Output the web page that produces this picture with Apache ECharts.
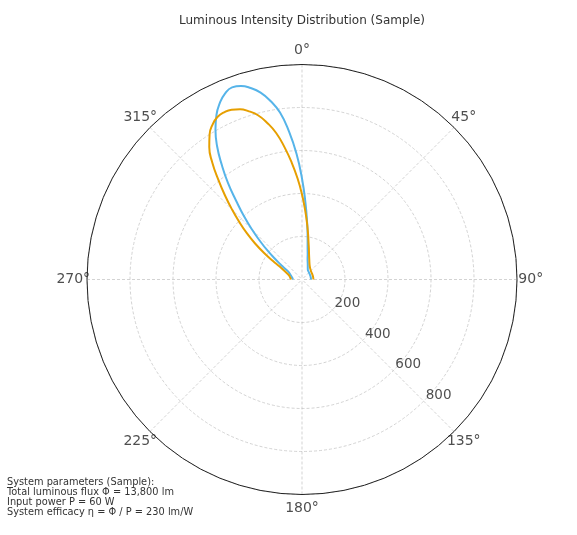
<!DOCTYPE html>
<html>
<head>
<meta charset="utf-8">
<title>Luminous Intensity Distribution (Sample)</title>
<script src="https://cdn.jsdelivr.net/npm/echarts@6/dist/echarts.min.js"></script>
<style>
html, body { margin: 0; padding: 0; background: #fff; }
#main { width: 577px; height: 535px; }
</style>
</head>
<body>
<div id="main"></div>
<script type="text/javascript">
// angles in degrees, 0 at top, clockwise
var angles = [270, 280, 290, 300, 302.5, 305, 307.5, 310, 312.5, 315, 317.5, 320, 322.5, 325, 327.5, 330, 332.5, 335, 337.5, 340,
              342.5, 345, 347.5, 350, 352.5, 355, 357.5, 0, 2.5, 5, 7.5, 10, 12.5, 15, 20, 30, 45, 60, 75, 90];
// intensity (cd) per angle
var blueValues = [42, 46, 55, 75, 95, 120, 160, 210, 265, 330, 400, 475, 565, 650, 735, 805, 862, 905, 936, 951,
                  944, 922, 890, 843, 783, 690, 585, 470, 360, 270, 200, 150, 122, 100, 78, 54, 46, 43, 42, 42];
var orangeValues = [51, 56, 68, 120, 160, 215, 275, 335, 395, 460, 530, 605, 685, 752, 800, 832, 852, 858, 855, 843,
                    820, 791, 746, 692, 620, 545, 470, 395, 325, 265, 215, 175, 148, 126, 99, 72, 58, 54, 53, 53];
// tick labels
var radialTicks = [200, 400, 600, 800];
var angleTicks = [0, 45, 90, 135, 180, 225, 270, 315];
var notes = [
    'System parameters (Sample):',
    'Total luminous flux \u03A6 = 13,800 lm',
    'Input power P = 60 W',
    'System efficacy \u03B7 = \u03A6 / P = 230 lm/W'
];

var font = 'DejaVu Sans';
var gridStyle = { color: '#c8c8c8', type: [3, 2], width: 0.8 };

function toPolar(vals) {
    return angles.map(function (a, i) { return [vals[i], a]; });
}

var myChart = echarts.init(document.getElementById('main'));

var option = {
    backgroundColor: '#fff',
    animation: false,
    textStyle: { fontFamily: font },
    title: [
        {
            text: 'Luminous Intensity Distribution (Sample)',
            left: 302, top: 15, textAlign: 'center', padding: 0,
            textStyle: { fontSize: 12, fontWeight: 'normal', color: '#333', fontFamily: font }
        },
        {
            text: notes.join('\n'),
            left: 7, top: 477, padding: 0,
            textStyle: { fontSize: 9.8, lineHeight: 10, fontWeight: 'normal', color: '#333', fontFamily: font }
        }
    ],
    polar: {
        center: [302, 279.5],
        radius: 215
    },
    angleAxis: {
        type: 'value',
        min: 0, max: 360, interval: 45,
        startAngle: 90, clockwise: true,
        axisLine: { show: true, lineStyle: { color: '#222', width: 1 } },
        axisTick: { show: false },
        axisLabel: { show: false },
        splitLine: { show: true, lineStyle: gridStyle }
    },
    radiusAxis: {
        type: 'value',
        min: 0, max: 1000, interval: 200,
        axisLine: { show: false },
        axisTick: { show: false },
        axisLabel: { show: false },
        splitLine: { show: true, lineStyle: gridStyle }
    },
    series: [
        {
            name: 'Sample A',
            type: 'line',
            coordinateSystem: 'polar',
            data: toPolar(blueValues),
            showSymbol: false,
            smooth: 0.5,
            lineStyle: { color: '#56B4E9', width: 2 },
            z: 3
        },
        {
            name: 'Sample B',
            type: 'line',
            coordinateSystem: 'polar',
            data: toPolar(orangeValues),
            showSymbol: false,
            smooth: 0.5,
            lineStyle: { color: '#E69F00', width: 2 },
            z: 4
        },
        {
            // radial tick labels along the 135 deg spoke
            type: 'scatter',
            coordinateSystem: 'polar',
            data: radialTicks.map(function (v) { return [v, 135]; }),
            symbolSize: 1,
            itemStyle: { color: 'transparent' },
            silent: true,
            label: {
                show: true,
                position: 'inside',
                offset: [15, -6],
                formatter: function (p) { return p.value[0]; },
                fontSize: 13.5, color: '#222', fontFamily: font
            }
        },
        {
            // angle tick labels, centred just outside the rim
            type: 'scatter',
            coordinateSystem: 'polar',
            data: angleTicks.map(function (a) { return [1064, a]; }),
            symbolSize: 1,
            clip: false,
            itemStyle: { color: 'transparent' },
            silent: true,
            label: {
                show: true,
                position: 'inside',
                formatter: function (p) { return p.value[1] + '°'; },
                fontSize: 14, color: '#222', fontFamily: font
            }
        }
    ]
};

myChart.setOption(option);
</script>
</body>
</html>
